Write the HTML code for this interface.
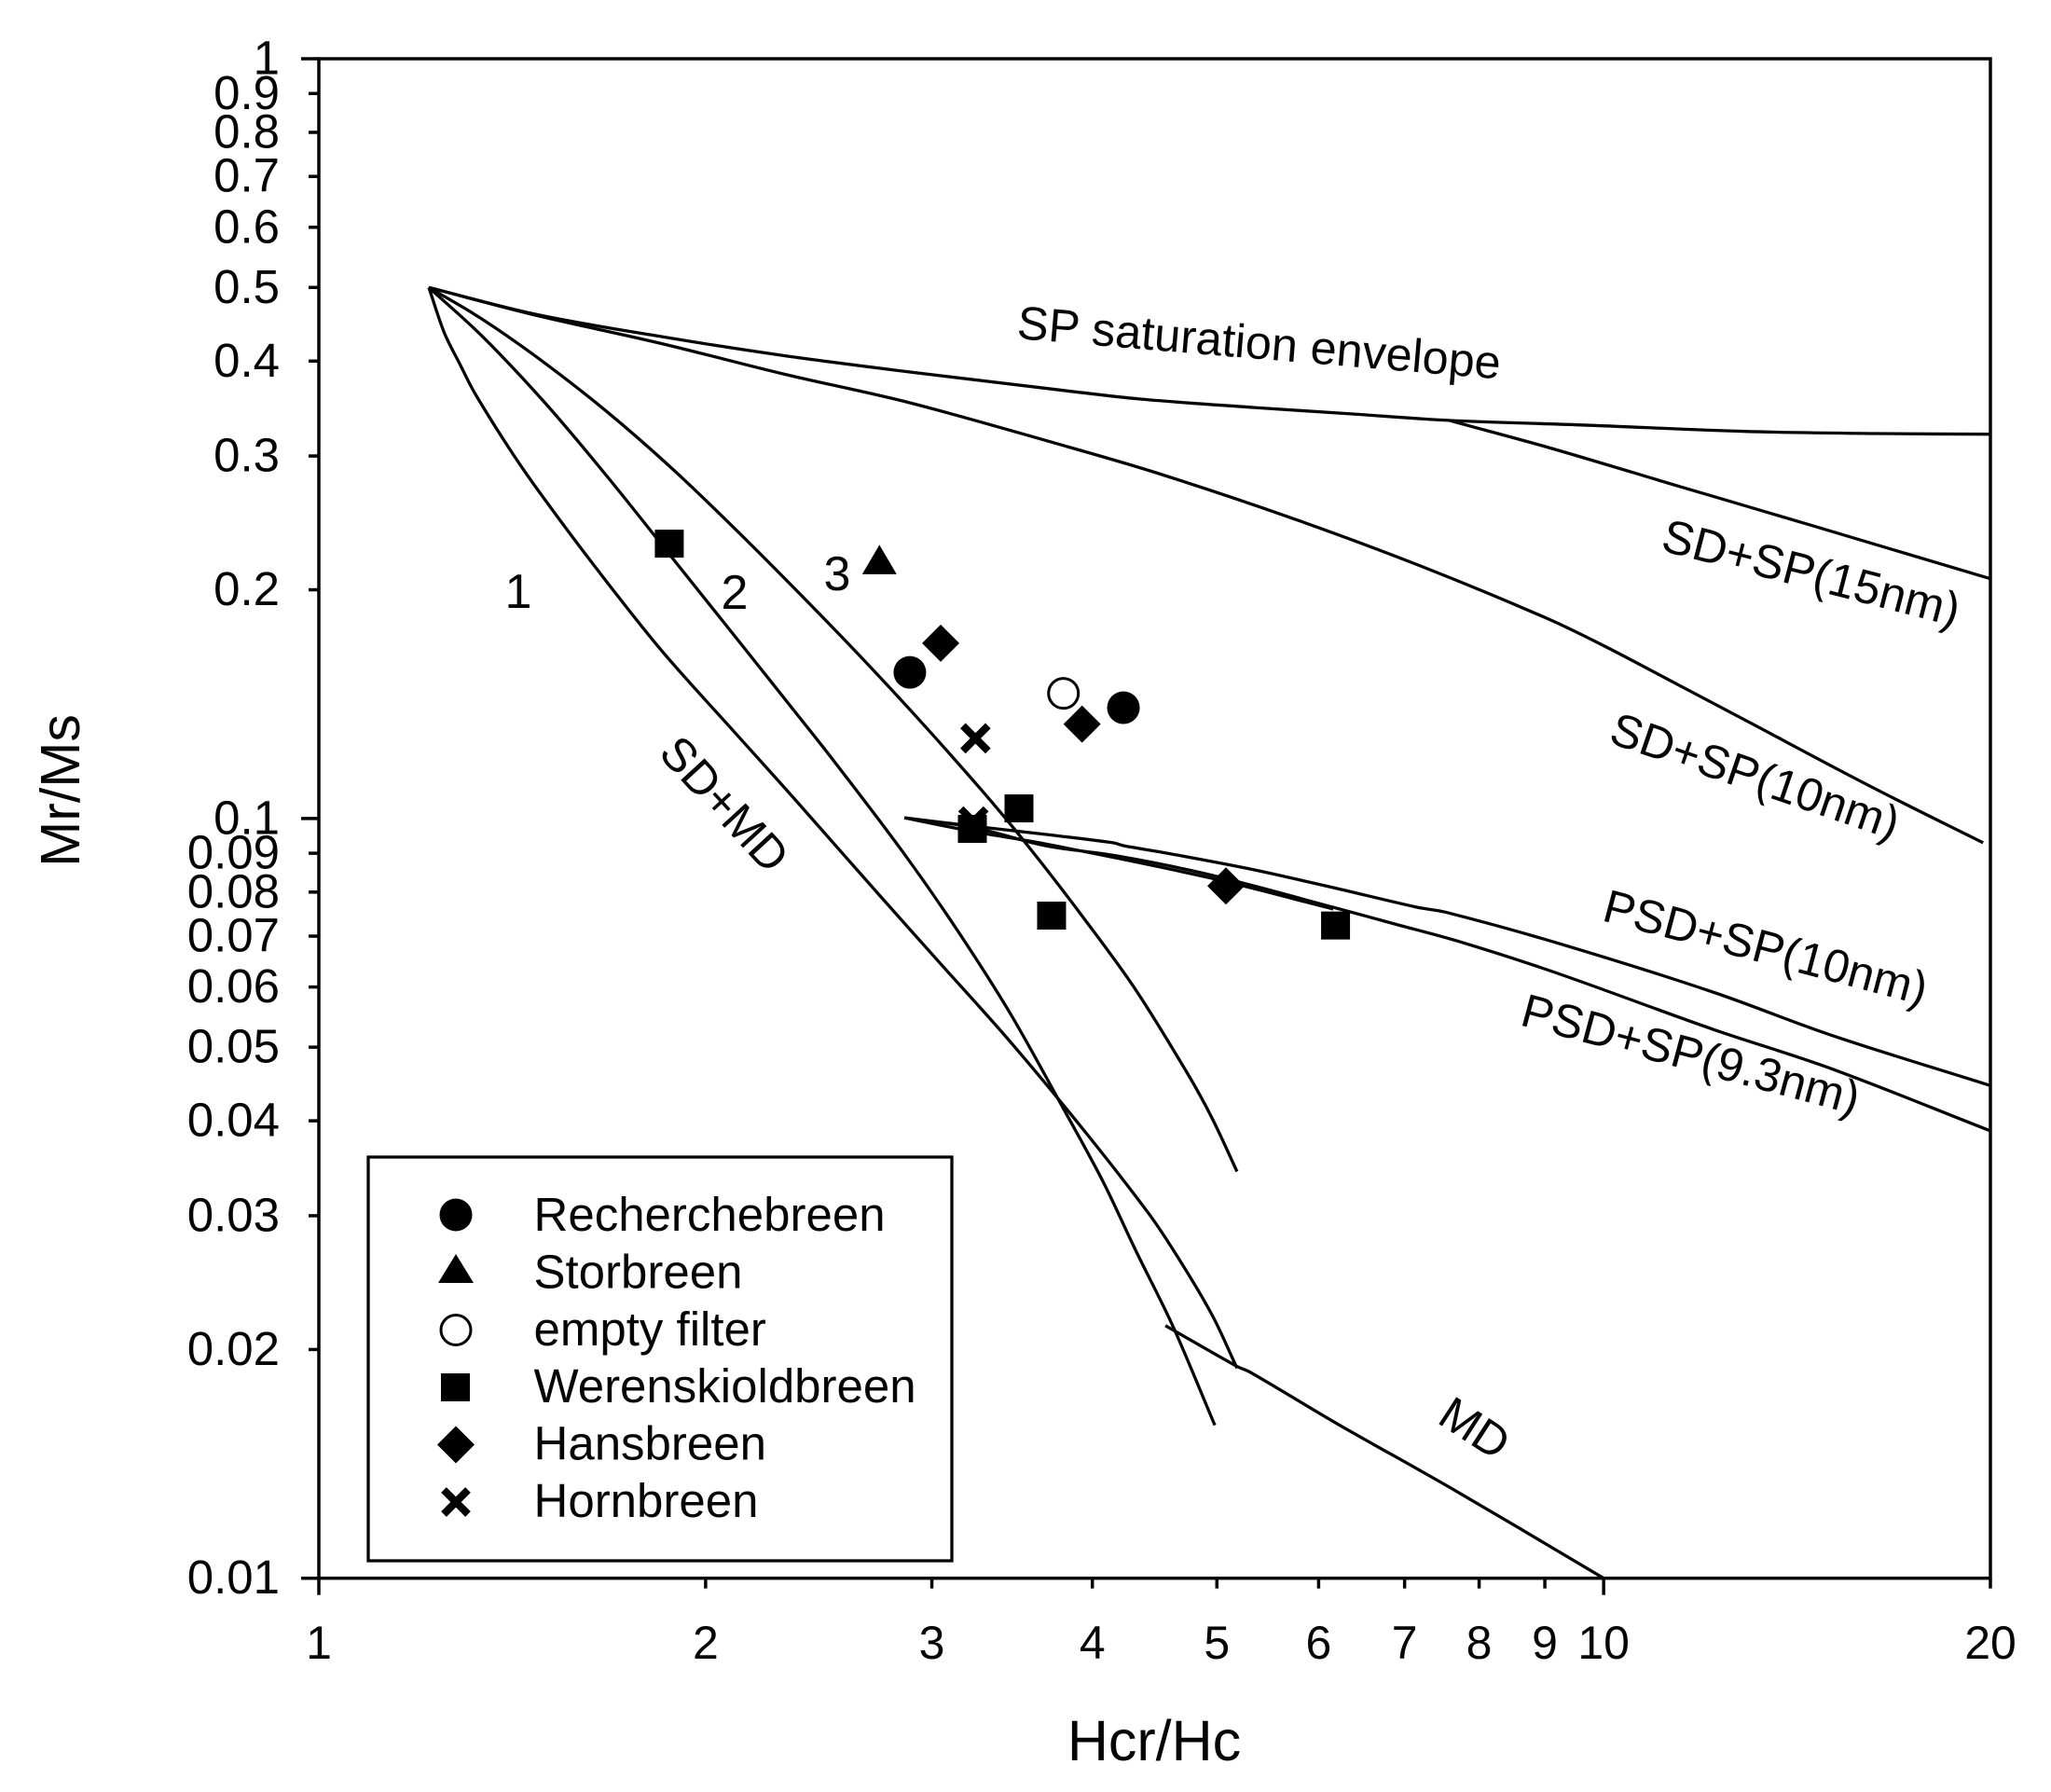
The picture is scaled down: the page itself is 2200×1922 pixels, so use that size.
<!DOCTYPE html>
<html lang="en">
<head>
<meta charset="utf-8">
<title>Day plot Mr/Ms vs Hcr/Hc</title>
<style>
html,body{margin:0;padding:0;background:#fff;}
svg{display:block;}
text{font-family:"Liberation Sans",Arial,sans-serif;fill:#050505;}
</style>
</head>
<body>
<svg id="chart" xmlns="http://www.w3.org/2000/svg" width="2200" height="1922" viewBox="0 0 2200 1922">
  <rect x="0" y="0" width="2200" height="1922" fill="#fff"/>
  <g id="axes"></g>
  <g id="curves" fill="none" stroke="#050505" stroke-width="3.3" stroke-linejoin="round"></g>
  <g id="points"></g>

  <text x="1238" y="1888" font-size="61" text-anchor="middle">Hcr/Hc</text>
  <text transform="translate(85,848) rotate(-90)" font-size="59" text-anchor="middle">Mr/Ms</text>

  <text transform="translate(1090,363) rotate(4.8)" font-size="50.4">SP saturation envelope</text>
  <text transform="translate(1780,590) rotate(14.5)" font-size="50.6">SD+SP(15nm)</text>
  <text transform="translate(1724,796) rotate(18.9)" font-size="50">SD+SP(10nm)</text>
  <text transform="translate(1717,987) rotate(14.8)" font-size="50">PSD+SP(10nm)</text>
  <text transform="translate(1629,1099) rotate(15)" font-size="50.3">PSD+SP(9.3nm)</text>
  <text transform="translate(705,809) rotate(47.5)" font-size="50">SD+MD</text>
  <text transform="translate(1540,1525) rotate(33)" font-size="50">MD</text>
  <text x="556" y="652" font-size="52" text-anchor="middle">1</text>
  <text x="788" y="653" font-size="52" text-anchor="middle">2</text>
  <text x="898" y="633" font-size="52" text-anchor="middle">3</text>

  <g>
    <rect x="395" y="1241" width="626" height="433" fill="#fff" stroke="#050505" stroke-width="3.3"/>
    <g>
      <circle cx="489" cy="1303" r="17.5" fill="#000"/>
      <text x="572.5" y="1320" font-size="51">Recherchebreen</text>
    </g>
    <g>
      <polygon points="489,1345 470,1376 508,1376" fill="#000"/>
      <text x="572.5" y="1381.4" font-size="51">Storbreen</text>
    </g>
    <g>
      <circle cx="489" cy="1426.5" r="16" fill="#fff" stroke="#000" stroke-width="3"/>
      <text x="572.5" y="1442.8" font-size="51">empty filter</text>
    </g>
    <g>
      <rect x="473" y="1473" width="31" height="30" fill="#000"/>
      <text x="572.5" y="1504.2" font-size="51">Werenskioldbreen</text>
    </g>
    <g>
      <polygon points="489,1529.5 509,1549.5 489,1569.5 469,1549.5" fill="#000"/>
      <text x="572.5" y="1565.6" font-size="51">Hansbreen</text>
    </g>
    <g>
      <path d="M476,1598 L502,1624 M502,1598 L476,1624" stroke="#000" stroke-width="8" fill="none"/>
      <text x="572.5" y="1627" font-size="51">Hornbreen</text>
    </g>
  </g>
</svg>

<script>
// ---- tick values ----
const xTickValues = [1, 2, 3, 4, 5, 6, 7, 8, 9, 10, 20];
const xMajorTicks = [1, 10];
const yTickValues = [1, 0.9, 0.8, 0.7, 0.6, 0.5, 0.4, 0.3, 0.2, 0.1, 0.09, 0.08, 0.07, 0.06, 0.05, 0.04, 0.03, 0.02, 0.01];
const yMajorTicks = [1, 0.1, 0.01];

// ---- curves: Hcr/Hc values and matching Mr/Ms values ----
const envelopeX = [1.218, 1.474, 1.843, 2.306, 2.884, 3.795, 4.358, 5.348, 6.378, 7.602, 9.605, 12.89, 16.29, 20];
const envelopeY = [0.5, 0.461, 0.431, 0.4065, 0.387, 0.366, 0.3565, 0.3475, 0.3407, 0.3341, 0.3296, 0.3232, 0.3211, 0.3205];

const sdSp15X = [7.6, 9.06, 11.46, 14.49, 20];
const sdSp15Y = [0.3338, 0.3078, 0.2735, 0.2433, 0.2068];

const sdSp10X = [1.218, 1.474, 1.843, 2.306, 2.884, 3.795, 4.483, 5.671, 7.171, 9.06, 10.05, 11.45, 13.04, 16.10, 19.74];
const sdSp10Y = [0.5, 0.4597, 0.4223, 0.3842, 0.3525, 0.3098, 0.2852, 0.2498, 0.2156, 0.183, 0.1681, 0.1497, 0.1333, 0.1104, 0.0929];

const sdMd3X = [1.218, 1.339, 1.496, 1.673, 1.87, 2.089, 2.349, 2.627, 2.938, 3.281, 3.561, 3.916, 4.314, 4.746, 4.958, 5.184];
const sdMd3Y = [0.5, 0.4546, 0.3987, 0.3439, 0.292, 0.2443, 0.2003, 0.1648, 0.1344, 0.1089, 0.0922, 0.0749, 0.0598, 0.0461, 0.0403, 0.0343];

const sdMd2X = [1.218, 1.339, 1.496, 1.673, 1.881, 2.149, 2.349, 2.503, 2.846, 3.131, 3.45, 3.795, 4.076, 4.314, 4.613, 4.982];
const sdMd2Y = [0.5, 0.4319, 0.3541, 0.2832, 0.2211, 0.1667, 0.138, 0.1205, 0.0905, 0.0718, 0.0555, 0.0416, 0.0333, 0.0272, 0.0216, 0.0159];

const sdMd1X = [1.218, 1.252, 1.287, 1.324, 1.416, 1.496, 1.645, 1.849, 2.103, 2.349, 2.73, 3.032, 3.45, 3.943, 4.431, 4.659, 4.958, 5.184];
const sdMd1Y = [0.5, 0.4361, 0.3969, 0.3617, 0.3018, 0.2642, 0.2132, 0.1662, 0.1303, 0.1058, 0.0793, 0.065, 0.0509, 0.0388, 0.0301, 0.0265, 0.0222, 0.0189];

const mdX = [4.56, 5.184, 5.299, 6.191, 7.691, 10];
const mdY = [0.0215, 0.019, 0.0187, 0.016, 0.013, 0.01];

const psd10X = [2.856, 3.232, 3.676, 4.151, 4.229, 4.574, 5.307, 6.159, 7.16, 7.526, 9.166, 12.16, 15.01, 20];
const psd10Y = [0.1002, 0.0977, 0.0953, 0.0929, 0.0921, 0.09, 0.0858, 0.0811, 0.0764, 0.0753, 0.0687, 0.0591, 0.0519, 0.0445];

const psd93X = [2.856, 3.232, 3.676, 4.176, 4.925, 6.159, 6.924, 7.691, 9.166, 12.16, 15.01, 20];
const psd93Y = [0.1002, 0.0973, 0.0921, 0.0893, 0.0844, 0.0764, 0.0724, 0.069, 0.0627, 0.0528, 0.0469, 0.0388];

const psdInnerX = [2.856, 3.232, 3.676, 4.925, 6.159];
const psdInnerY = [0.1002, 0.0961, 0.0926, 0.0836, 0.076];

// ---- sample points ----
const recherchebreenX = [2.884, 4.229];
const recherchebreenY = [0.1557, 0.1399];
const storbreenX = [2.731];
const storbreenY = [0.2187];
const emptyFilterX = [3.798];
const emptyFilterY = [0.1461];
const hornbreenX = [3.244, 3.232];
const hornbreenY = [0.1275, 0.0991];
const werenskioldbreenX = [1.874, 3.226, 3.507, 3.718, 6.185];
const werenskioldbreenY = [0.23, 0.0969, 0.1031, 0.0745, 0.0723];
const hansbreenX = [3.048, 3.927, 5.082];
const hansbreenY = [0.1701, 0.1331, 0.0815];

// ---- axis functions (log-log) ----
const plotLeft = 342, plotRight = 2135, plotTop = 63, plotBottom = 1692.7;
const xMin = 1, xMax = 20, yMin = 0.01, yMax = 1;
function sx(v) {
  return plotLeft + (plotRight - plotLeft) * Math.log10(v / xMin) / Math.log10(xMax / xMin);
}
function sy(v) {
  return plotBottom - (plotBottom - plotTop) * Math.log10(v / yMin) / Math.log10(yMax / yMin);
}

const NS = 'http://www.w3.org/2000/svg';
function make(tag, parent, attrs) {
  const el = document.createElementNS(NS, tag);
  for (const k in attrs) el.setAttribute(k, attrs[k]);
  parent.appendChild(el);
  return el;
}

// ---- axes ----
const axes = document.getElementById('axes');
const frame = make('rect', axes, { x: plotLeft, y: plotTop, width: plotRight - plotLeft, height: plotBottom - plotTop, fill: 'none', stroke: '#050505', 'stroke-width': 3.5 });



xTickValues.forEach(function (v) {
  const len = xMajorTicks.includes(v) ? 18 : 11;
  const t = make('line', axes, { x1: sx(v), x2: sx(v), y1: plotBottom, y2: plotBottom + len, stroke: '#050505', 'stroke-width': 3.5 });
  
  
  const l = make('text', axes, { x: sx(v), y: 1779, 'font-size': 50, 'text-anchor': 'middle' });
  l.textContent = String(v);
  
  
});

yTickValues.forEach(function (v) {
  const len = yMajorTicks.includes(v) ? 19 : 11;
  const t = make('line', axes, { x1: plotLeft, x2: plotLeft - len, y1: sy(v), y2: sy(v), stroke: '#050505', 'stroke-width': 3.5 });
  
  
  const l = make('text', axes, { x: 300, y: sy(v) + 16.5, 'font-size': 51, 'text-anchor': 'end' });
  l.textContent = String(v);
  
  
});

// ---- curves: smooth path with handles scaled to each segment's length ----
function smoothPath(xs, ys) {
  const p = xs.map(function (x, i) { return [sx(x), sy(ys[i])]; });
  function tangent(i) {
    const a = p[Math.max(i - 1, 0)], c = p[Math.min(i + 1, p.length - 1)];
    const dx = c[0] - a[0], dy = c[1] - a[1], n = Math.hypot(dx, dy) || 1;
    return [dx / n, dy / n];
  }
  let d = 'M' + p[0][0].toFixed(1) + ',' + p[0][1].toFixed(1);
  for (let i = 0; i < p.length - 1; i++) {
    const b = p[i], c = p[i + 1], seg = Math.hypot(c[0] - b[0], c[1] - b[1]) / 3;
    const t1 = tangent(i), t2 = tangent(i + 1);
    d += ' C' + (b[0] + t1[0] * seg).toFixed(1) + ',' + (b[1] + t1[1] * seg).toFixed(1) + ' ' +
         (c[0] - t2[0] * seg).toFixed(1) + ',' + (c[1] - t2[1] * seg).toFixed(1) + ' ' +
         c[0].toFixed(1) + ',' + c[1].toFixed(1);
  }
  return d;
}
const curvesGroup = document.getElementById('curves');
function addCurve(name, xs, ys) {
  const path = make('path', curvesGroup, { d: smoothPath(xs, ys) });
  
  
}
addCurve('curve-sp-saturation-envelope', envelopeX, envelopeY);
addCurve('curve-sd-sp-15nm', sdSp15X, sdSp15Y);
addCurve('curve-sd-sp-10nm', sdSp10X, sdSp10Y);
addCurve('curve-sd-md-3', sdMd3X, sdMd3Y);
addCurve('curve-sd-md-2', sdMd2X, sdMd2Y);
addCurve('curve-sd-md-1', sdMd1X, sdMd1Y);
addCurve('curve-md', mdX, mdY);
addCurve('curve-psd-sp-10nm', psd10X, psd10Y);
addCurve('curve-psd-sp-9-3nm', psd93X, psd93Y);
addCurve('curve-psd-sp-inner', psdInnerX, psdInnerY);

// ---- markers ----
const pointsGroup = document.getElementById('points');
function drawCircle(cx, cy) {
  return make('circle', pointsGroup, { cx: cx, cy: cy, r: 17.5, fill: '#000' });
}
function drawOpenCircle(cx, cy) {
  return make('circle', pointsGroup, { cx: cx, cy: cy, r: 16, fill: '#fff', stroke: '#000', 'stroke-width': 3 });
}
function drawTriangle(cx, cy) {
  return make('polygon', pointsGroup, { points: cx + ',' + (cy - 16.5) + ' ' + (cx - 18.5) + ',' + (cy + 15) + ' ' + (cx + 18.5) + ',' + (cy + 15), fill: '#000' });
}
function drawSquare(cx, cy) {
  return make('rect', pointsGroup, { x: cx - 15.5, y: cy - 15, width: 31, height: 30, fill: '#000' });
}
function drawDiamond(cx, cy) {
  return make('polygon', pointsGroup, { points: cx + ',' + (cy - 20) + ' ' + (cx + 20) + ',' + cy + ' ' + cx + ',' + (cy + 20) + ' ' + (cx - 20) + ',' + cy, fill: '#000' });
}
function drawCross(cx, cy) {
  return make('path', pointsGroup, { d: 'M' + (cx - 13.5) + ',' + (cy - 13.5) + ' L' + (cx + 13.5) + ',' + (cy + 13.5) + ' M' + (cx + 13.5) + ',' + (cy - 13.5) + ' L' + (cx - 13.5) + ',' + (cy + 13.5), stroke: '#000', 'stroke-width': 8, fill: 'none' });
}
function addSeries(name, xs, ys, draw) {
  xs.forEach(function (x, i) {
    const mark = draw(sx(x), sy(ys[i]));
    
    
  });
}
addSeries('point-recherchebreen', recherchebreenX, recherchebreenY, drawCircle);
addSeries('point-storbreen', storbreenX, storbreenY, drawTriangle);
addSeries('point-empty-filter', emptyFilterX, emptyFilterY, drawOpenCircle);
addSeries('point-hornbreen', hornbreenX, hornbreenY, drawCross);
addSeries('point-werenskioldbreen', werenskioldbreenX, werenskioldbreenY, drawSquare);
addSeries('point-hansbreen', hansbreenX, hansbreenY, drawDiamond);
</script>
</body>
</html>
